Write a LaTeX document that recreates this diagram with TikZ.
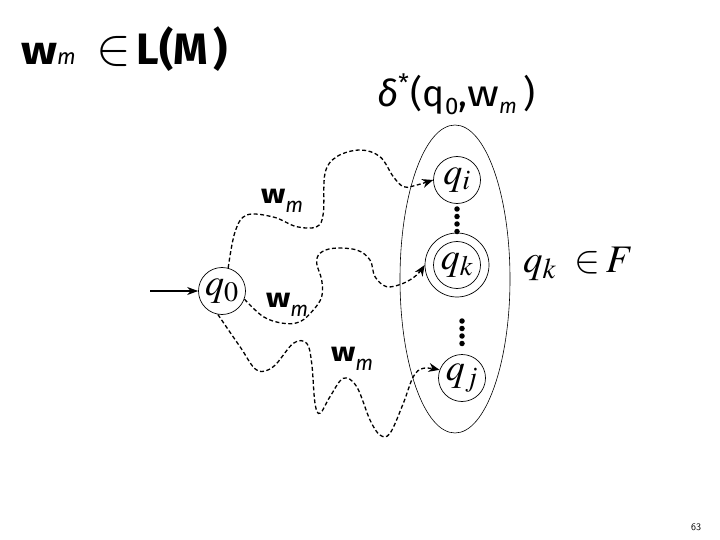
\documentclass[tikz,border=0pt]{standalone}
\usepackage{mathptmx}
\usepackage{fontspec}
\newfontfamily\cf{Fira Sans}
\usetikzlibrary{arrows.meta,shapes.geometric}
\tikzset{
  st/.style={circle,draw,line width=0.7pt,minimum size=47pt,inner sep=0pt,font=\fontsize{38}{38}\selectfont},
  wave/.style={line width=1.3pt,dash pattern=on 4pt off 2.5pt,-{Stealth[length=11pt,width=9pt]}},
  lbl/.style={font=\cf\fontsize{27}{27}\selectfont,inner sep=0pt,anchor=base west},
  dot/.style={circle,fill,inner sep=0pt,minimum size=5.5pt}
}
% w with subscript m: #1 size of m, #2 drop of m
\newcommand{\wm}[2]{{\bfseries\scalebox{1.2}[1]{w}}\raisebox{-#2}{\fontsize{#1}{#1}\selectfont\itshape m}}
\begin{document}
\begin{tikzpicture}[x=1pt,y=-1pt]
\useasboundingbox (0,0) rectangle (720,540);
% states
\node[st] (q0) at (222,291) {$q_0$};
\node[st] (qi) at (457,180) {$q_i$};
\node[st] (qk) at (457,265) {$q_k$};
\node[circle,draw,line width=0.7pt,minimum size=64pt,inner sep=0pt] (qko) at (457,265) {};
\node[st] (qj) at (462,378) {$q_j$};
\node[ellipse,draw,line width=0.6pt,minimum width=110pt,minimum height=308pt,inner sep=0pt] (set) at (455,279) {};
% start arrow
\coordinate (start) at (150,291);
\draw[line width=1.2pt,-{Stealth[length=11pt,width=8pt]}] (start) -- (q0.west);
% dots
\foreach \y in {209,216.5,224,231.5} \node[dot] at (457,\y) {};
\foreach \y in {321,328.5,336,343.5} \node[dot] at (462,\y) {};
% dashed paths
\draw[wave] plot[smooth,tension=0.6] coordinates {(q0.75) (235,232) (246.7,215) (273.3,217) (296.7,226.7) (316.7,226.7) (323.3,213.3) (325,173.3) (336.7,156.7) (360,150) (380,156.7) (393.3,176.7) (403.3,186.7) (413.3,186) (qi.west)};
\draw[wave] plot[smooth,tension=0.6] coordinates {(q0.-20) (263.3,316.7) (283.3,323.3) (300,321.7) (313.3,310) (321.7,296.7) (321.7,280) (316.7,263.3) (320,253.3) (333.3,248.3) (356.7,250) (370,260) (375,276.7) (386.7,286.7) (403.3,283.3) (416.7,275) (qko.west)};
\draw[wave] plot[smooth,tension=0.6] coordinates {(q0.-100) (240,346.7) (256.7,370) (273.3,366.7) (293.3,343.3) (306.7,343.3) (311.7,363.3) (315,403.3) (320,413.3) (330,396.7) (343.3,378.3) (356.7,386.7) (370,420) (380,435) (390,433.3) (403.3,403.3) (413.3,376.7) (423.3,368.3) (qj.160)};
% labels
\node[lbl] (l1) at (261,204) {\wm{21}{9pt}};
\node[lbl] (l2) at (266,307) {\wm{21}{9pt}};
\node[lbl] (l3) at (331,361) {\wm{21}{9pt}};
\node[inner sep=0pt,anchor=base west,font=\cf\fontsize{40}{40}\selectfont] (title) at (21,65) {\wm{22}{0pt}\hspace{21pt}\scalebox{1.3}{\rmfamily$\in$}\hspace{5pt}{\bfseries\fontsize{44}{44}\selectfont L(M\hspace{6pt})}};
\node[inner sep=0pt,anchor=base west,font=\cf\fontsize{37}{37}\selectfont] (delta) at (377,107) {\textit{δ}\raisebox{0.42em}{\fontsize{24}{24}\selectfont *}\hspace{2pt}(q\raisebox{-0.2em}{\fontsize{24}{24}\selectfont 0},\scalebox{1.2}[1]{w}\raisebox{-0.18em}{\fontsize{21}{21}\selectfont\itshape m}\hspace{6pt})};
\node[inner sep=0pt,anchor=base west,font=\fontsize{39}{39}\selectfont] (fin) at (523,272) {$q_k\hspace{9pt}\in\hspace{-3pt} F$};
\node[inner sep=0pt,font=\sffamily\fontsize{10}{10}\selectfont] (pg) at (696,527) {63};
\end{tikzpicture}
\end{document}
